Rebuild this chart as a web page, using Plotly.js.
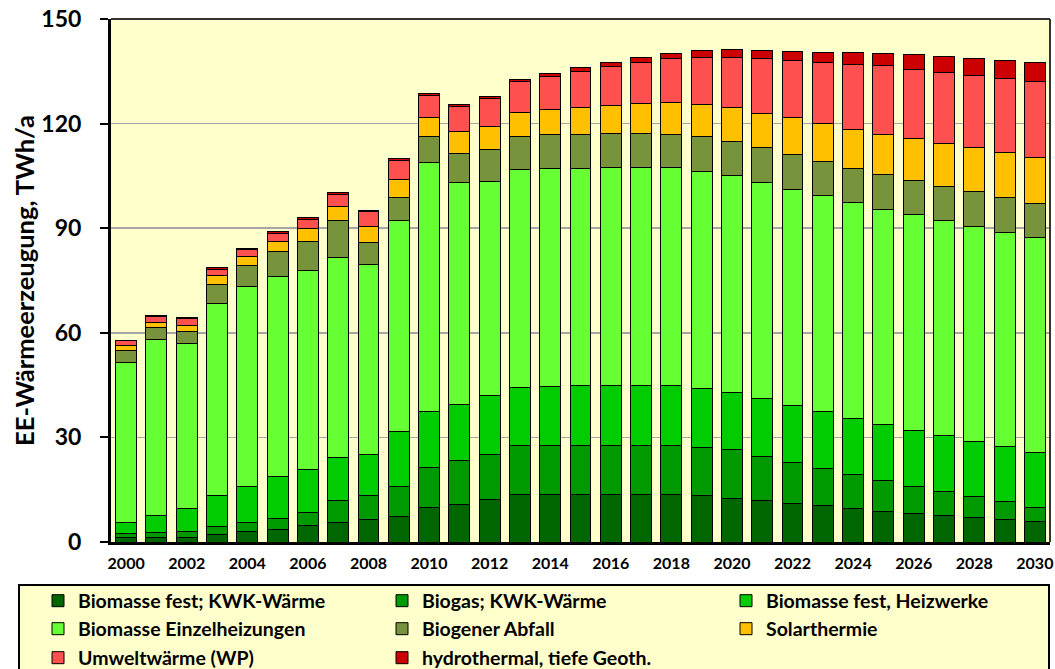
<!DOCTYPE html>
<html>
<head>
<meta charset="utf-8">
<script src="https://cdn.plot.ly/plotly-3.0.1.min.js"></script>
<style>html,body{margin:0;padding:0;background:#fff;}#chart{width:1055px;height:669px;}</style>
</head>
<body>
<div id="chart"></div>
<script>
const years = [2000,2001,2002,2003,2004,2005,2006,2007,2008,2009,2010,2011,2012,2013,2014,2015,2016,2017,2018,2019,2020,2021,2022,2023,2024,2025,2026,2027,2028,2029,2030];
const xTickVals = [2000,2002,2004,2006,2008,2010,2012,2014,2016,2018,2020,2022,2024,2026,2028,2030];
const yTickVals = [0,30,60,90,120,150];

const seriesNames = ["Biomasse fest; KWK-Wärme","Biogas; KWK-Wärme","Biomasse fest, Heizwerke","Biomasse Einzelheizungen","Biogener Abfall","Solarthermie","Umweltwärme (WP)","hydrothermal, tiefe Geoth."];

const bioFestKWK = [1.2,1.2,1.4,2.2,2.9,3.7,4.8,5.5,6.4,7.2,10.0,10.7,12.3,13.6,13.6,13.6,13.6,13.6,13.55,13.2,12.6,11.8,11.1,10.4,9.5,8.8,8.1,7.5,7.0,6.4,5.8];
const biogasKWK = [1.35,1.45,1.6,2.2,2.6,3.1,3.8,6.5,6.9,8.7,11.4,12.6,12.8,14.1,14.1,14.1,14.1,14.2,14.15,13.9,13.8,12.8,11.7,10.6,9.9,8.8,7.8,6.9,6.0,5.1,4.0];
const heizwerke = [3.05,4.85,6.5,8.9,10.5,12.0,12.1,12.2,11.8,15.7,16.0,16.2,16.8,16.7,16.9,17.1,17.2,17.2,17.1,16.8,16.5,16.5,16.3,16.3,16.1,16.0,16.1,16.1,15.8,15.9,15.9];
const einzelheizungen = [45.8,50.55,47.5,55.0,57.3,57.4,57.3,57.3,54.6,60.7,71.5,63.5,61.6,62.5,62.6,62.4,62.5,62.4,62.5,62.5,62.3,62.1,62.1,62.0,62.0,61.9,61.8,61.7,61.7,61.5,61.6];
const abfall = [3.5,3.35,3.3,5.5,6.0,7.1,8.3,10.8,6.3,6.6,7.3,8.3,9.1,9.5,9.7,9.7,9.8,9.8,9.7,9.8,9.8,9.9,10.0,9.9,9.7,9.8,9.8,9.8,9.9,9.8,9.8];
const solarthermie = [1.4,1.5,1.9,2.5,2.5,3.0,3.6,4.0,4.4,5.2,5.6,6.4,6.7,6.8,7.2,7.8,8.0,8.5,9.0,9.3,9.6,9.8,10.5,10.9,11.2,11.7,12.0,12.3,12.7,12.9,13.3];
const umweltwaerme = [1.4,1.7,1.9,1.9,2.05,2.2,2.7,3.3,4.3,5.4,6.2,7.1,7.9,8.8,9.5,10.3,11.1,11.9,12.7,13.5,14.5,15.7,16.4,17.5,18.6,19.6,20.0,20.5,20.8,21.4,21.8];
const hydrothermal = [0.2,0.3,0.3,0.4,0.4,0.5,0.5,0.5,0.5,0.5,0.6,0.6,0.6,0.6,0.9,1.2,1.3,1.4,1.5,2.0,2.1,2.3,2.6,2.9,3.3,3.6,4.1,4.4,4.9,5.1,5.4];

const values = [bioFestKWK,biogasKWK,heizwerke,einzelheizungen,abfall,solarthermie,umweltwaerme,hydrothermal];
const colors = ["#006600","#009900","#00CC00","#66FF33","#77933C","#FFC000","#FF5050","#CC0000"];
const legendIds = ["legend","legend","legend","legend2","legend2","legend2","legend3","legend3"];

const FONT = "Lato, 'Open Sans', sans-serif";

const traces = values.map((v,i)=>({
  type:"bar", x:years, y:v, name:seriesNames[i],
  legend: legendIds[i],
  marker:{color:colors[i], line:{color:"#000000", width:1}},
  hoverinfo:"x+y+name"
}));

// plot area in px
const L = 111, R = 1050, T = 19, B = 542;
const W = R - L, H = B - T;
const px2x = p => (p - L)/W;
const px2y = p => (B - p)/H;

function legendDef(rowCenterPx){
  return {
    orientation:"h", xanchor:"left", yanchor:"middle",
    x: px2x(38), y: px2y(rowCenterPx),
    bgcolor:"rgba(0,0,0,0)", borderwidth:0,
    entrywidth:299, entrywidthmode:"pixels",
    font:{family:FONT, size:19.5, color:"#000000", weight:700},
    traceorder:"normal"
  };
}

const layout = {
  width:1055, height:669,
  margin:{l:L, r:1055-R, t:T, b:669-B, pad:0, autoexpand:false},
  paper_bgcolor:"#FFFFFF",
  plot_bgcolor:"#FFFFCC",
  barmode:"stack",
  bargap:0.31,
  showlegend:true,
  font:{family:FONT, color:"#000", weight:700},
  xaxis:{
    range:[1999.5,2030.5], tickmode:"array", tickvals:xTickVals,
    ticks:"", showgrid:false, zeroline:false, automargin:false,
    showline:true, linecolor:"#000", linewidth:3,
    tickfont:{family:FONT, size:16, color:"#000", weight:700},
    ticklabelstandoff:5, fixedrange:true
  },
  yaxis:{
    range:[0,150], tickmode:"array", tickvals:yTickVals, automargin:false,
    ticks:"outside", ticklen:8, tickwidth:2, tickcolor:"#000",
    showgrid:true, gridcolor:"#A6A6A6", gridwidth:1.5, zeroline:false,
    showline:true, linecolor:"#000", linewidth:3,
    tickfont:{family:FONT, size:23, color:"#000", weight:700},
    ticklabelstandoff:14,
    title:{text:"EE-Wärmeerzeugung, TWh/a", font:{family:FONT, size:25.5, color:"#000", weight:700}, standoff:0},
    fixedrange:true
  },
  legend: legendDef(601),
  legend2: legendDef(629),
  legend3: legendDef(658),
  shapes:[
    {type:"line", xref:"paper", yref:"paper", x0:0, x1:1, y0:1, y1:1, line:{color:"#333", width:2}},
    {type:"line", xref:"paper", yref:"paper", x0:1, x1:1, y0:0, y1:1, line:{color:"#333", width:2}},
    {type:"rect", xref:"paper", yref:"paper", x0:px2x(19), x1:px2x(1049), y0:px2y(585), y1:px2y(700),
     fillcolor:"#FFFFCC", line:{color:"#000", width:2}, layer:"below"}
  ]
};

Plotly.newPlot("chart", traces, layout, {displayModeBar:false, staticPlot:true});
</script>
</body>
</html>
